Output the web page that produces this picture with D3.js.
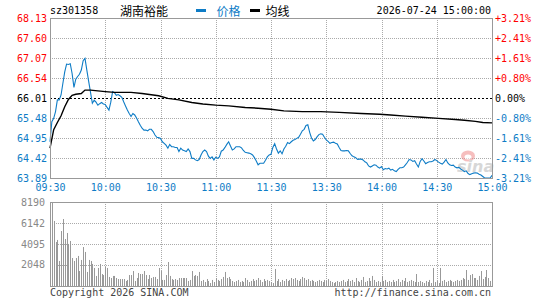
<!DOCTYPE html>
<html>
<head>
<meta charset="utf-8">
<script src="https://cdn.jsdelivr.net/npm/d3@7"></script>
<style>
body{margin:0;background:#fff}
svg{display:block}
text{font-family:"DejaVu Sans Mono",monospace;font-size:10px}
.cjk{font-family:"Noto Sans CJK SC",sans-serif;font-size:12px}
</style>
</head>
<body>
<div id="chart"></div>
<script>
const code="sz301358"
const stockName="湖南裕能"
const stamp="2026-07-24 15:00:00"
const prevClose=66.01

const priceTicks=[68.13,67.60,67.07,66.54,66.01,65.48,64.95,64.42,63.89]
const pctTicks=["+3.21%","+2.41%","+1.61%","+0.80%","0.00%","-0.80%","-1.61%","-2.41%","-3.21%"]
const timeLabels=["09:30","10:00","10:30","11:00","11:30","13:30","14:00","14:30","15:00"]
const timeMinutes=[0,30,60,90,120,150,180,210,240]
const volTicks=[8190,6142,4095,2048]

// one price per minute, 09:30..11:30 then 13:01..15:00
const prices=[
64.85,65.38,65.47,65.65,65.96,65.96,66.09,66.40,66.70,66.91,
66.90,66.92,66.66,66.29,66.51,66.58,66.64,66.75,67.00,67.06,
66.75,66.45,66.16,65.87,65.95,65.90,65.82,65.86,65.89,65.85,
65.84,65.76,65.69,65.90,66.18,66.15,66.08,66.10,66.07,66.03,
65.91,65.80,65.69,65.60,65.52,65.60,65.56,65.48,65.38,65.29,
65.21,65.16,65.16,65.14,65.18,65.18,65.12,65.03,64.97,64.96,
64.94,64.85,64.81,64.76,64.68,64.78,64.72,64.72,64.70,64.70,
64.59,64.68,64.63,64.61,64.59,64.66,64.59,64.41,64.41,64.37,
64.35,64.38,64.50,64.59,64.63,64.59,64.47,64.41,64.45,64.37,
64.44,64.41,64.45,64.60,64.63,64.70,64.78,64.85,64.74,64.63,
64.66,64.72,64.72,64.72,64.69,64.62,64.57,64.56,64.55,64.53,
64.50,64.43,64.34,64.24,64.28,64.28,64.28,64.36,64.45,64.50,
64.52,64.70,64.80,64.66,64.55,64.61,64.53,64.66,64.73,64.83,
64.80,64.85,64.89,64.91,64.94,64.97,65.05,65.14,65.18,65.28,
65.30,65.10,64.95,64.87,64.91,64.98,65.04,65.06,65.05,64.97,
64.90,64.86,64.81,64.83,64.84,64.81,64.79,64.70,64.62,64.61,
64.61,64.62,64.61,64.54,64.48,64.45,64.43,64.38,64.39,64.39,
64.37,64.32,64.29,64.21,64.18,64.21,64.24,64.23,64.18,64.15,
64.19,64.11,64.14,64.13,64.15,64.10,64.12,64.08,64.06,64.12,
64.16,64.16,64.18,64.24,64.30,64.38,64.37,64.33,64.35,64.26,
64.18,64.33,64.40,64.34,64.27,64.30,64.32,64.32,64.34,64.38,
64.35,64.31,64.28,64.26,64.31,64.38,64.29,64.24,64.22,64.23,
64.18,64.16,64.17,64.13,64.10,64.06,64.08,64.01,63.98,64.00,
64.02,64.03,64.02,63.99,63.97,63.93,63.89,63.89,63.89,63.89,
63.96
]

const avgMinutes=[0,2,4,6,8,10,12,14,17,19,22,30,35,44,50,59,64,70,77,83,90,97,106,113,120,127,137,147,157,169,179,185,193,202,211,220,225,231,235,240]
const avgPrices=[64.68,65.17,65.36,65.54,65.78,65.97,66.08,66.11,66.13,66.22,66.22,66.18,66.16,66.16,66.13,66.07,66.00,65.96,65.89,65.85,65.82,65.80,65.76,65.74,65.71,65.67,65.65,65.65,65.63,65.60,65.58,65.56,65.53,65.50,65.47,65.44,65.42,65.39,65.36,65.35]

const volumes=[
1760,8190,6340,4290,4490,2440,5360,6530,4580,5170,
4100,4390,2730,2440,2730,2930,1460,2540,3800,3320,
1370,2540,2440,2150,1760,980,1760,2150,1170,1070,
1850,1760,880,780,980,980,780,680,680,680,
680,490,590,1070,1070,1460,490,780,1270,1170,
1170,1460,1070,680,1070,780,880,880,680,1760,
1460,590,590,1070,2340,980,680,590,680,590,
780,780,780,780,780,490,590,1460,980,1070,
980,1370,490,590,390,680,490,290,590,390,
780,590,490,680,880,1370,780,880,680,490,
390,490,590,390,490,390,780,590,390,490,
680,490,590,780,590,390,680,490,590,490,
390,290,1660,490,680,390,590,490,680,490,
590,780,680,780,590,490,680,880,780,590,
680,490,590,490,390,490,590,490,390,590,
490,680,490,390,290,390,490,390,490,590,
390,490,680,490,590,390,780,490,390,590,
880,390,490,780,490,980,590,390,490,390,
980,490,590,390,490,390,590,390,490,680,
390,590,490,780,390,490,590,490,390,1170,
390,490,390,290,490,390,590,290,1760,390,
490,290,1760,490,590,390,490,590,490,390,
490,590,490,590,780,680,1560,590,1070,1170,
780,780,590,980,1460,680,880,1560,780,490,
590
]

const W=545,H=300
const pLeft=50,pRight=492
const pTop=18,pBottom=178
const vTop=202,vBottom=286

const blue="#0e7cc6"
const red="#ff0000"
const gridColor="#aaaaaa"
const frameColor="#999999"

const svg=d3.select("#chart").append("svg")
.attr("width",W)
.attr("height",H)

const x=d3.scaleLinear().domain([0,240]).range([pLeft,pRight])
const y=d3.scaleLinear().domain([63.89,68.13]).range([pBottom,pTop])
const yv=d3.scaleLinear().domain([0,8190]).range([vBottom,vTop])

// header
svg.append("text").attr("x",50).attr("y",14).attr("fill","#000").text(code)
svg.append("text").attr("class","cjk").attr("x",120).attr("y",15.5).attr("fill","#000").text(stockName)
svg.append("rect").attr("x",196).attr("y",9).attr("width",10).attr("height",3).attr("fill",blue)
svg.append("text").attr("class","cjk").attr("x",216.5).attr("y",15.5).attr("fill",blue).text("价格")
svg.append("rect").attr("x",250).attr("y",9).attr("width",10).attr("height",3).attr("fill","#000")
svg.append("text").attr("class","cjk").attr("x",265.5).attr("y",15.5).attr("fill","#000").text("均线")
svg.append("text").attr("x",491).attr("y",14).attr("text-anchor","end").attr("fill","#000").text(stamp)

// grids
const grid=svg.append("g").attr("stroke",gridColor).attr("stroke-dasharray","1,1").attr("fill","none")

grid.selectAll(".hp")
.data(priceTicks.filter(p=>p!==prevClose&&p!==priceTicks[0]&&p!==priceTicks[8]))
.enter().append("line")
.attr("x1",pLeft).attr("x2",pRight)
.attr("y1",d=>Math.round(y(d))+0.5).attr("y2",d=>Math.round(y(d))+0.5)

grid.selectAll(".vp")
.data(timeMinutes.slice(1,-1))
.enter().append("line")
.attr("y1",pTop).attr("y2",pBottom)
.attr("x1",d=>Math.round(x(d))+0.5).attr("x2",d=>Math.round(x(d))+0.5)

grid.selectAll(".hv")
.data(volTicks.slice(1))
.enter().append("line")
.attr("x1",pLeft).attr("x2",pRight)
.attr("y1",d=>Math.round(yv(d))+0.5).attr("y2",d=>Math.round(yv(d))+0.5)

grid.selectAll(".vv")
.data(timeMinutes.slice(1,-1))
.enter().append("line")
.attr("y1",vTop).attr("y2",vBottom)
.attr("x1",d=>Math.round(x(d))+0.5).attr("x2",d=>Math.round(x(d))+0.5)

svg.append("line")
.attr("x1",pLeft).attr("x2",pRight)
.attr("y1",Math.round(y(prevClose))+0.5).attr("y2",Math.round(y(prevClose))+0.5)
.attr("stroke","#000").attr("stroke-dasharray","2,2")

// watermark
const wm=svg.append("g").attr("opacity",0.55)
wm.append("ellipse").attr("cx",468).attr("cy",156).attr("rx",7).attr("ry",5.5).attr("fill","#f08a8a")
wm.append("ellipse").attr("cx",468).attr("cy",157).attr("rx",3.5).attr("ry",2.5).attr("fill","#fff")
wm.append("text").attr("x",457).attr("y",172)
.style("font-family","'DejaVu Sans',sans-serif").style("font-size","16px")
.style("font-style","italic").style("font-weight","bold")
.attr("fill","#b8b8b8").text("sina")

// volume bars
svg.append("g").selectAll("rect")
.data(volumes)
.enter().append("rect")
.attr("x",(d,i)=>Math.round(x(i)))
.attr("width",1)
.attr("y",d=>yv(d))
.attr("height",d=>vBottom-yv(d))
.attr("fill","#999999")

// price + average
const line=d3.line().x((d,i)=>x(i)).y(d=>y(d))
svg.append("path").datum(prices)
.attr("d",line)
.attr("fill","none").attr("stroke",blue).attr("stroke-width",1.1)

const avgData=avgMinutes.map((m,i)=>[m,avgPrices[i]])
svg.append("path").datum(avgData)
.attr("d",d3.line().x(d=>x(d[0])).y(d=>y(d[1])))
.attr("fill","none").attr("stroke","#000").attr("stroke-width",1.4)

// frames
svg.append("rect").attr("x",pLeft+0.5).attr("y",pTop+0.5).attr("width",pRight-pLeft).attr("height",pBottom-pTop)
.attr("fill","none").attr("stroke",frameColor)
svg.append("rect").attr("x",pLeft+0.5).attr("y",vTop+0.5).attr("width",pRight-pLeft).attr("height",vBottom-vTop)
.attr("fill","none").attr("stroke",frameColor)

// axes
function tickColor(p){
if(p>prevClose) return red
if(p<prevClose) return blue
return "#000"
}

const leftAxis=svg.append("g")
.attr("transform",`translate(${pLeft-3},0)`)
.call(d3.axisLeft(y).tickValues(priceTicks).tickSize(0).tickPadding(0).tickFormat(d3.format(".2f")))
leftAxis.select(".domain").remove()
leftAxis.selectAll("text")
.attr("dy",null).attr("y",3)
.attr("fill",d=>tickColor(d))
.style("font-family","'DejaVu Sans Mono',monospace").style("font-size","10px")

const rightAxis=svg.append("g")
.attr("transform",`translate(${pRight+3},0)`)
.call(d3.axisRight(y).tickValues(priceTicks).tickSize(0).tickPadding(0).tickFormat((d,i)=>pctTicks[i]))
rightAxis.select(".domain").remove()
rightAxis.selectAll("text")
.attr("dy",null).attr("y",3)
.attr("fill",d=>tickColor(d))
.style("font-family","'DejaVu Sans Mono',monospace").style("font-size","10px")

const timeAxis=svg.append("g")
.attr("transform",`translate(0,${pBottom+2})`)
.call(d3.axisBottom(x).tickValues(timeMinutes).tickSize(0).tickPadding(0).tickFormat((d,i)=>timeLabels[i]))
timeAxis.select(".domain").remove()
timeAxis.selectAll("text")
.attr("dy",null).attr("y",11)
.attr("fill",blue)
.style("font-family","'DejaVu Sans Mono',monospace").style("font-size","10px")

const volAxis=svg.append("g")
.attr("transform",`translate(${pLeft-5},0)`)
.call(d3.axisLeft(yv).tickValues(volTicks).tickSize(0).tickPadding(0).tickFormat(d3.format("d")))
volAxis.select(".domain").remove()
volAxis.selectAll("text")
.attr("dy",null).attr("y",3)
.attr("fill","#888888")
.style("font-family","'DejaVu Sans Mono',monospace").style("font-size","10px")

// footer
svg.append("text").attr("x",50).attr("y",296).attr("fill","#444").text("Copyright 2026 SINA.COM")
svg.append("text").attr("x",491).attr("y",296).attr("text-anchor","end").attr("fill","#444").text("http://finance.sina.com.cn")
</script>
</body>
</html>
